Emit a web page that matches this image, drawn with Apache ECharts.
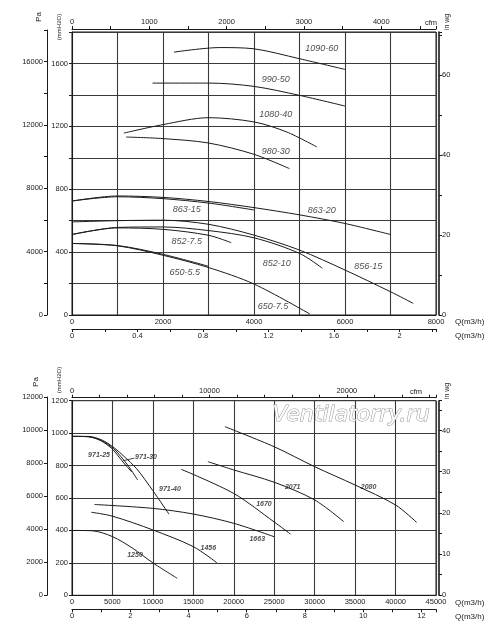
<!DOCTYPE html>
<html>
<head>
<meta charset="utf-8">
<script src="https://cdn.jsdelivr.net/npm/echarts@6/dist/echarts.min.js"></script>
<style>
  html, body { margin: 0; padding: 0; background: #fff; }
  #chart { width: 500px; height: 637px; }
</style>
</head>
<body>
<div id="chart"></div>
<script>
// fan curves, points are [Q m3/h, p mmH2O]

// upper sheet
const c1090_60 = [[2240, 1672], [3250, 1701], [4000, 1693], [5000, 1630], [6000, 1562]];
const c990_50  = [[1770, 1475], [3030, 1475], [4000, 1454], [5000, 1397], [6000, 1329]];
const c1080_40 = [[1140, 1157], [2000, 1211], [3000, 1255], [4000, 1228], [4720, 1164], [5380, 1069]];
const c980_30  = [[1190, 1132], [2000, 1122], [3000, 1094], [4000, 1022], [4780, 931]];
const c863_15  = [[0, 725], [1000, 752], [2000, 740], [3000, 712], [4000, 668]];
const c863_20  = [[0, 725], [1000, 757], [2000, 748], [3000, 722], [4000, 683], [5000, 637], [6000, 582], [7000, 512]];
const c856_15  = [[0, 592], [1000, 600], [2000, 603], [3000, 577], [4000, 508], [5000, 413], [6000, 286], [7000, 148], [7500, 74]];
const c852_10  = [[0, 512], [1000, 557], [2000, 560], [3000, 537], [4000, 491], [5000, 392], [5500, 298]];
const c852_75  = [[0, 512], [1000, 554], [2000, 545], [3000, 507], [3500, 460]];
const c650_55  = [[0, 455], [1000, 442], [2000, 386], [3000, 310]];
const c650_75  = [[0, 455], [1000, 440], [2000, 380], [3000, 302], [4000, 197], [5230, 6]];

// lower sheet
const c971_25 = [[0, 980], [2000, 978], [3500, 955], [4900, 906], [5700, 860], [6500, 810], [7400, 760]];
const c971_30 = [[0, 980], [2000, 978], [3600, 955], [5100, 906], [6000, 858], [7000, 795], [8120, 711]];
const c971_40 = [[0, 980], [2000, 980], [3800, 955], [5300, 906], [6400, 858], [8000, 780], [10000, 645], [12000, 500]];
const c1250 = [[0, 400], [2500, 398], [5000, 362], [7500, 290], [10000, 200], [13000, 105]];
const c1456 = [[2400, 512], [5000, 488], [10000, 403], [15000, 300], [17900, 201]];
const c1663 = [[2800, 560], [10000, 536], [15000, 501], [20000, 444], [25000, 361]];
const c1670 = [[13500, 777], [20000, 628], [25000, 452], [27000, 378]];
const c2071 = [[16800, 824], [20000, 773], [25000, 697], [30000, 588], [33600, 454]];
const c2080 = [[18900, 1040], [25000, 916], [30000, 793], [35000, 680], [40000, 557], [42600, 450]];

const topCurves = [
  ['1090-60', c1090_60], ['990-50', c990_50], ['1080-40', c1080_40], ['980-30', c980_30],
  ['863-15', c863_15], ['863-20', c863_20], ['856-15', c856_15], ['852-10', c852_10],
  ['852-7.5', c852_75], ['650-5.5', c650_55], ['650-7.5', c650_75]
];
const bottomCurves = [
  ['971-25', c971_25], ['971-30', c971_30], ['971-40', c971_40], ['1250', c1250], ['1456', c1456],
  ['1663', c1663], ['1670', c1670], ['2071', c2071], ['2080', c2080]
];

// curve names, placed at [Q, p]
const topLabels = [
  ['1090-60', 5490, 1693], ['990-50', 4480, 1498], ['1080-40', 4480, 1276], ['980-30', 4480, 1043],
  ['863-15', 2520, 673], ['863-20', 5490, 662], ['852-7.5', 2520, 470], ['852-10', 4500, 328],
  ['856-15', 6510, 309], ['650-5.5', 2480, 271], ['650-7.5', 4420, 53]
];
const bottomLabels = [
  ['971-25', 3340, 865], ['971-30', 9150, 851], ['971-40', 12110, 654], ['1250', 7790, 248],
  ['1456', 16850, 290], ['1663', 22900, 345], ['1670', 23730, 561], ['2071', 27280, 670],
  ['2080', 36670, 666]
];
const leader971_30 = [[7700, 846], [6350, 830]];

// axis ranges
const topQMax = 8000, topPMax = 1800, topPaMax = 18000;
const botQMax = 45000, botPMax = 1200, botPaMax = 12000;
const M3H_PER_CFM = 1.699, MM_PER_INWG = 25.4;

const FONT = 'Liberation Sans';
const ink = '#1a1a1a';

let chart = echarts.init(document.getElementById('chart'));

function every(step) {
  return function (v) {
    const r = v / step;
    return Math.abs(r - Math.round(r)) < 1e-6 ? String(+v.toFixed(2)) : '';
  };
}

const lbl = { fontSize: 7.5, color: ink, fontFamily: FONT };
const line = { show: true, onZero: false, lineStyle: { color: ink, width: 1 } };
const thick = { show: true, onZero: false, lineStyle: { color: ink, width: 1.6 } };
const tick = { show: true, length: 3, lineStyle: { color: ink } };
const grid = { show: true, lineStyle: { color: '#3a3a3a', width: 1.1 } };

function qName(gap) {
  return {
    name: 'Q(m3/h)', nameLocation: 'end', nameGap: gap,
    nameTextStyle: { fontSize: 8, color: ink, fontFamily: FONT, align: 'left', verticalAlign: 'top', padding: [3, 0, 0, 0] }
  };
}

let xAxis = [
  // upper
  Object.assign({ gridIndex: 0, type: 'value', position: 'bottom', min: 0, max: topQMax, interval: 1000,
    axisLine: line, axisTick: { show: false }, splitLine: grid,
    axisLabel: Object.assign({ margin: 3, formatter: every(2000) }, lbl) }, qName(19)),
  Object.assign({ gridIndex: 0, type: 'value', position: 'bottom', offset: 14, min: 0, max: topQMax / 3600, interval: 0.2,
    axisLine: line, axisTick: tick, splitLine: { show: false },
    axisLabel: Object.assign({ margin: 3, formatter: every(0.4) }, lbl) }, qName(19)),
  { gridIndex: 0, type: 'value', position: 'top', offset: 3, min: 0, max: topQMax / M3H_PER_CFM, interval: 500,
    name: 'cfm', nameLocation: 'end', nameGap: 1,
    nameTextStyle: { fontSize: 7.5, color: ink, fontFamily: FONT, align: 'right', verticalAlign: 'bottom', padding: [0, 0, 2, 0] },
    axisLine: line, axisTick: tick, splitLine: { show: false },
    axisLabel: Object.assign({ margin: 3, formatter: every(1000) }, lbl) },
  { gridIndex: 1, type: 'value', show: false, min: 0, max: 1 },
  // lower
  Object.assign({ gridIndex: 2, type: 'value', position: 'bottom', min: 0, max: botQMax, interval: 5000,
    axisLine: line, axisTick: { show: false }, splitLine: grid,
    axisLabel: Object.assign({ margin: 3, formatter: every(5000) }, lbl) }, qName(19)),
  Object.assign({ gridIndex: 2, type: 'value', position: 'bottom', offset: 14, min: 0, max: botQMax / 3600, interval: 1,
    axisLine: line, axisTick: tick, splitLine: { show: false },
    axisLabel: Object.assign({ margin: 3, formatter: every(2) }, lbl) }, qName(19)),
  { gridIndex: 2, type: 'value', position: 'top', offset: 3, min: 0, max: botQMax / M3H_PER_CFM, interval: 2000,
    name: 'cfm', nameLocation: 'end', nameGap: -14,
    nameTextStyle: { fontSize: 7.5, color: ink, fontFamily: FONT, align: 'right', verticalAlign: 'bottom', padding: [0, 0, 2, 0] },
    axisLine: line, axisTick: tick, splitLine: { show: false },
    axisLabel: Object.assign({ margin: 3, formatter: every(10000) }, lbl) },
  { gridIndex: 3, type: 'value', show: false, min: 0, max: 1 }
];

let yAxis = [
  { gridIndex: 0, type: 'value', position: 'left', min: 0, max: topPMax, interval: 200,
    axisLine: line, axisTick: tick, splitLine: grid,
    axisLabel: Object.assign({ margin: 4, formatter: every(400) }, lbl) },
  { gridIndex: 0, type: 'value', position: 'right', offset: 3, min: 0, max: topPMax / MM_PER_INWG, interval: 10,
    axisLine: thick, axisTick: tick, splitLine: { show: false },
    axisLabel: Object.assign({ margin: 3, formatter: every(20) }, lbl) },
  { gridIndex: 1, type: 'value', position: 'left', min: 0, max: topPaMax, interval: 2000,
    axisLine: line, axisTick: tick, splitLine: { show: false },
    axisLabel: Object.assign({ margin: 4, formatter: every(4000) }, lbl) },
  { gridIndex: 2, type: 'value', position: 'left', min: 0, max: botPMax, interval: 200,
    axisLine: line, axisTick: tick, splitLine: grid,
    axisLabel: Object.assign({ margin: 4, formatter: every(200) }, lbl) },
  { gridIndex: 2, type: 'value', position: 'right', offset: 3, min: 0, max: botPMax / MM_PER_INWG, interval: 5,
    axisLine: thick, axisTick: tick, splitLine: { show: false },
    axisLabel: Object.assign({ margin: 3, formatter: every(10) }, lbl) },
  { gridIndex: 3, type: 'value', position: 'left', min: 0, max: botPaMax, interval: 2000,
    axisLine: line, axisTick: tick, splitLine: { show: false },
    axisLabel: Object.assign({ margin: 4, formatter: every(2000) }, lbl) }
];

let series = [];
topCurves.forEach(function (c) {
  series.push({ name: c[0], type: 'line', xAxisIndex: 0, yAxisIndex: 0, data: c[1],
    smooth: 0.3, symbol: 'none', lineStyle: { color: ink, width: 1 } });
});
bottomCurves.forEach(function (c) {
  series.push({ name: c[0], type: 'line', xAxisIndex: 4, yAxisIndex: 3, data: c[1],
    smooth: 0.3, symbol: 'none', lineStyle: { color: ink, width: 1 } });
});
// leader from the 971-30 label to its curve
series.push({ type: 'line', xAxisIndex: 4, yAxisIndex: 3, data: leader971_30, symbol: 'none',
  lineStyle: { color: ink, width: 0.8 } });

function labelSeries(xi, yi, rows, size, weight) {
  return { type: 'scatter', xAxisIndex: xi, yAxisIndex: yi, symbolSize: 1,
    itemStyle: { color: 'rgba(0,0,0,0)' },
    data: rows.map(function (r) { return [r[1], r[2], r[0]]; }),
    label: { show: true, position: 'inside', formatter: function (p) { return p.data[2]; },
      fontSize: size, fontStyle: 'italic', fontWeight: weight, color: ink, fontFamily: FONT } };
}
series.push(labelSeries(0, 0, topLabels, 9, 'normal'));
series.push(labelSeries(4, 3, bottomLabels, 7, 'bold'));

function vtext(x, y, text, size) {
  return { type: 'text', x: x, y: y, rotation: Math.PI / 2, silent: true,
    style: { text: text, font: size + 'px ' + FONT, fill: ink, align: 'center', verticalAlign: 'middle',
      textAlign: 'center', textVerticalAlign: 'middle' } };
}

let option = {
  animation: false,
  backgroundColor: '#fff',
  grid: [
    { left: 72, right: 64, top: 32, height: 283, show: true, borderColor: ink, borderWidth: 1 },
    { left: 47, right: 64, top: 30, height: 285 },
    { left: 72, right: 64, top: 400.7, height: 194.6, show: true, borderColor: ink, borderWidth: 1 },
    { left: 47, right: 64, top: 397, height: 198.3 }
  ],
  xAxis: xAxis,
  yAxis: yAxis,
  series: series,
  graphic: [
    vtext(39, 17, 'Pa', 8), vtext(59, 27, '(mmH2O)', 6), vtext(447, 22, 'in wg', 7),
    vtext(36, 382, 'Pa', 8), vtext(59, 380, '(mmH2O)', 6), vtext(447, 391, 'in wg', 7),
    { type: 'text', left: 272, top: 404, z: 100, silent: true,
      style: { text: 'Ventilatorry.ru', font: 'italic 22px "DejaVu Sans"', fill: '#fff', stroke: '#9a9a9a', lineWidth: 1.1 } }
  ]
};

chart.setOption(option);
</script>
</body>
</html>
